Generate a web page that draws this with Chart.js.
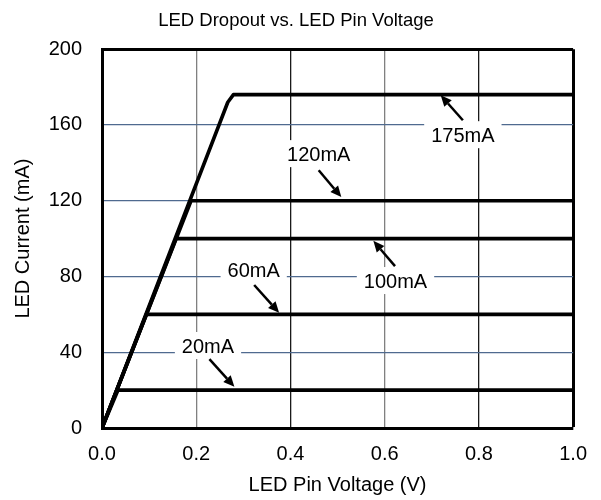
<!DOCTYPE html>
<html>
<head>
<meta charset="utf-8">
<script src="https://cdn.jsdelivr.net/npm/chart.js@4/dist/chart.umd.min.js"></script>
<style>
body { margin: 0; background: #fff; }
</style>
</head>
<body>
<canvas id="chart1" width="601" height="500"></canvas>
<script>
// LED current levels (mA) and the pin voltage where each one levels off
var currents = [20, 60, 100, 120, 176];
var kneeVolts = [0.034, 0.094, 0.157, 0.189, 0.279];
var xTicks = [0.0, 0.2, 0.4, 0.6, 0.8, 1.0];
var yTicks = [0, 40, 80, 120, 160, 200];

// callout labels, in data units
var labelText = ["20mA", "60mA", "100mA", "120mA", "175mA"];
var labelX = [0.225, 0.322, 0.623, 0.460, 0.766];
var labelY = [43.3, 83.0, 77.6, 144.6, 154.6];
var arrowFromX = [0.228, 0.323, 0.622, 0.460, 0.766];
var arrowFromY = [36.4, 75.5, 85.5, 136.1, 162.5];
var arrowToX = [0.281, 0.376, 0.576, 0.508, 0.719];
var arrowToY = [21.8, 60.8, 98.8, 121.9, 175.7];

var font = "'Liberation Sans', Arial, sans-serif";

var datasets = [];
for (var i = 0; i < currents.length; i++) {
    var pts = [{x: 0, y: 0}];
    if (i === currents.length - 1) {
        // small rounding at the top knee
        pts.push({x: kneeVolts[i] - 0.012, y: currents[i] - 4});
    }
    pts.push({x: kneeVolts[i], y: currents[i]});
    pts.push({x: 1.0, y: currents[i]});
    datasets.push({
        label: labelText[i],
        data: pts,
        borderColor: '#000',
        borderWidth: 3.6,
        pointRadius: 0,
        tension: 0,
        borderJoinStyle: 'round'
    });
}

var callouts = {
    id: 'callouts',
    beforeDatasetsDraw: function (chart) {
        var ctx = chart.ctx;
        var xs = chart.scales.x, ys = chart.scales.y;
        ctx.save();
        ctx.font = "20px " + font;
        ctx.textAlign = 'center';
        ctx.textBaseline = 'middle';
        for (var i = 0; i < labelText.length; i++) {
            var cx = xs.getPixelForValue(labelX[i]);
            var cy = ys.getPixelForValue(labelY[i]);
            var w = ctx.measureText(labelText[i]).width + 14;
            ctx.fillStyle = '#fff';
            ctx.fillRect(cx - w / 2, cy - 14, w, 27);
            ctx.fillStyle = '#000';
            ctx.fillText(labelText[i], cx, cy + 1);

            var x1 = xs.getPixelForValue(arrowFromX[i]);
            var y1 = ys.getPixelForValue(arrowFromY[i]);
            var x2 = xs.getPixelForValue(arrowToX[i]);
            var y2 = ys.getPixelForValue(arrowToY[i]);
            var a = Math.atan2(y2 - y1, x2 - x1);
            var headLen = 11, headW = 5;
            var bx = x2 - headLen * Math.cos(a), by = y2 - headLen * Math.sin(a);
            ctx.strokeStyle = '#000';
            ctx.lineWidth = 2.5;
            ctx.beginPath();
            ctx.moveTo(x1, y1);
            ctx.lineTo(bx, by);
            ctx.stroke();
            ctx.beginPath();
            ctx.moveTo(x2, y2);
            ctx.lineTo(bx + headW * Math.sin(a), by - headW * Math.cos(a));
            ctx.lineTo(bx - headW * Math.sin(a), by + headW * Math.cos(a));
            ctx.closePath();
            ctx.fill();
        }
        ctx.restore();
    }
};

new Chart(document.getElementById('chart1').getContext('2d'), {
    type: 'line',
    data: { datasets: datasets },
    options: {
        responsive: false,
        animation: false,
        devicePixelRatio: 1,
        layout: { padding: { top: 0, right: 25, bottom: 0, left: 16 } },
        plugins: {
            legend: { display: false },
            tooltip: { enabled: false },
            title: {
                display: true,
                text: 'LED Dropout vs. LED Pin Voltage',
                color: '#000',
                font: { family: font, size: 18.5, weight: 'normal' },
                padding: { top: 10, bottom: 17 }
            }
        },
        scales: {
            x: {
                type: 'linear',
                min: 0, max: 1,
                afterBuildTicks: function (s) { s.ticks = xTicks.map(function (v) { return {value: v}; }); },
                afterFit: function (s) { s.height = 72; },
                ticks: {
                    color: '#000',
                    padding: 14,
                    maxRotation: 0,
                    font: { family: font, size: 20 },
                    callback: function (v) { return v.toFixed(1); }
                },
                grid: {
                    drawTicks: false,
                    color: function (c) {
                        var v = c.tick ? c.tick.value : 0;
                        if (Math.abs(v - 1) < 1e-6) return '#000';
                        return (Math.round(v * 10) % 4 === 2) ? '#808080' : '#1a1a1a';
                    },
                    lineWidth: function (c) {
                        var v = c.tick ? c.tick.value : 0;
                        return Math.abs(v - 1) < 1e-6 ? 3 : 1.3;
                    }
                },
                border: { display: true, color: '#000', width: 3 },
                title: {
                    display: true,
                    text: 'LED Pin Voltage (V)',
                    color: '#000',
                    font: { family: font, size: 20 },
                    padding: { top: 0, bottom: 3 }
                }
            },
            y: {
                type: 'linear',
                min: 0, max: 200,
                afterBuildTicks: function (s) { s.ticks = yTicks.map(function (v) { return {value: v}; }); },
                afterFit: function (s) { s.width = 86; },
                ticks: {
                    color: '#000',
                    padding: 20,
                    font: { family: font, size: 20 }
                },
                grid: {
                    drawTicks: false,
                    color: function (c) {
                        var v = c.tick ? c.tick.value : 0;
                        return v === 200 ? '#000' : '#4f6a8f';
                    },
                    lineWidth: function (c) {
                        var v = c.tick ? c.tick.value : 0;
                        return v === 200 ? 3 : 1.2;
                    }
                },
                border: { display: true, color: '#000', width: 3 },
                title: {
                    display: true,
                    text: 'LED Current (mA)',
                    color: '#000',
                    font: { family: font, size: 20 },
                    padding: { top: -5, bottom: 0 }
                }
            }
        }
    },
    plugins: [callouts]
});
</script>
</body>
</html>
